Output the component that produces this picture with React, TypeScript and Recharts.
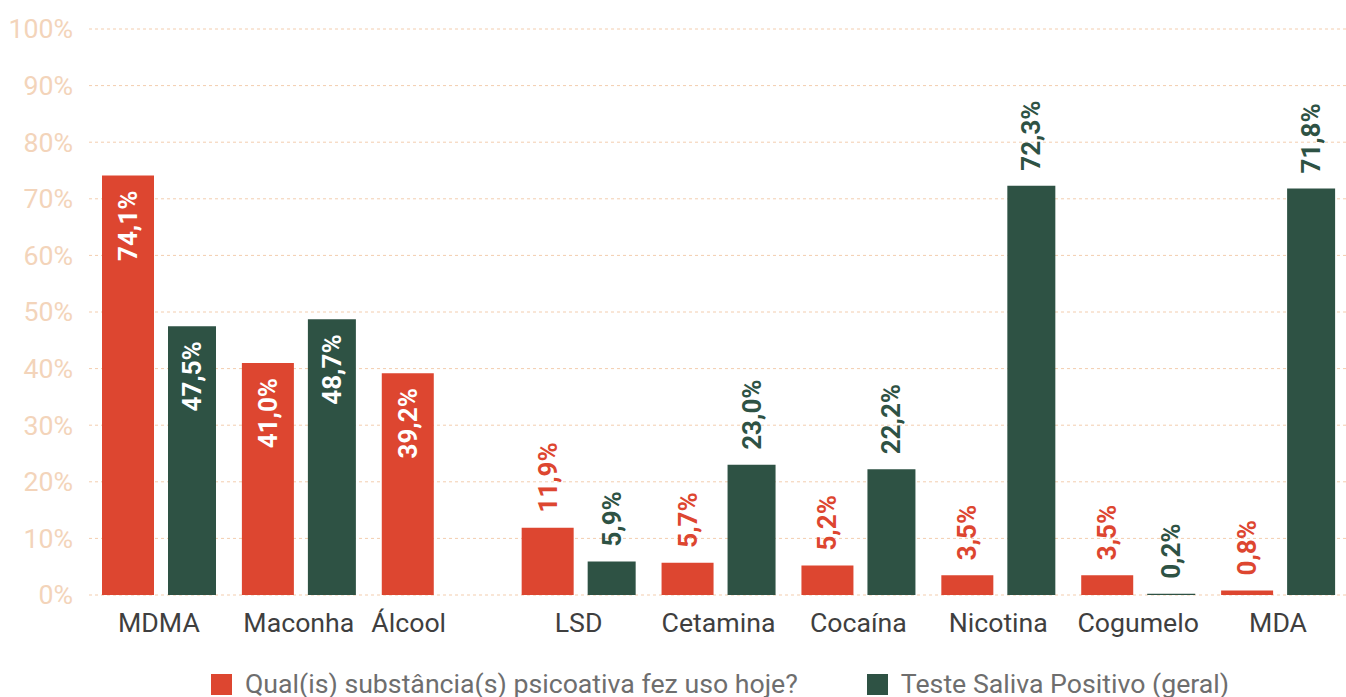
import React from "react";
import {
  BarChart,
  Bar,
  XAxis,
  YAxis,
  CartesianGrid,
  Legend,
  LabelList,
} from "recharts";

const categories = [
  "MDMA",
  "Maconha",
  "Álcool",
  "LSD",
  "Cetamina",
  "Cocaína",
  "Nicotina",
  "Cogumelo",
  "MDA",
];
const usoHoje = [74.1, 41.0, 39.2, 11.9, 5.7, 5.2, 3.5, 3.5, 0.8];
const salivaPositivo = [47.5, 48.7, null, 5.9, 23.0, 22.2, 72.3, 0.2, 71.8];
const yTicks = [0, 10, 20, 30, 40, 50, 60, 70, 80, 90, 100];

const seriesNames = [
  "Qual(is) substância(s) psicoativa fez uso hoje?",
  "Teste Saliva Positivo (geral)",
];

// labels drawn in white inside the bar, the rest sit above it
const insideRed = ["MDMA", "Maconha", "Álcool"];
const insideGreen = ["MDMA", "Maconha"];

const RED = "#DD4630";
const GREEN = "#2E5244";
const FONT = "Roboto, sans-serif";
const FS = 26.7;

const data = categories.map((name, i) => ({
  name,
  uso: usoHoje[i],
  saliva: salivaPositivo[i],
}));

const fmt = (v: number) => v.toFixed(1).replace(".", ",") + "%";

const makeLabel = (color: string, inside: string[]) => (props: any) => {
  const { x, y, width, value, index } = props;
  if (value == null) return null;
  const isInside = inside.includes(categories[index]);
  const cx = Number(x) + Number(width) / 2 + 9;
  const top = Number(y);
  const ly = isInside ? top + 15 : top - 15;
  return (
    <text
      x={cx}
      y={ly}
      transform={`rotate(-90 ${cx} ${ly})`}
      textAnchor={isInside ? "end" : "start"}
      fill={isInside ? "#ffffff" : color}
      fontFamily={FONT}
      fontSize={26}
      fontWeight={700}
    >
      {fmt(Number(value))}
    </text>
  );
};

const XTick = (props: any) => {
  const { x, y, payload } = props;
  const i = categories.indexOf(payload.value);
  // single-bar category: centre the label under its bar
  const dx = salivaPositivo[i] == null ? -30 : 0;
  return (
    <text
      x={x + dx}
      y={y}
      dy="0.71em"
      textAnchor="middle"
      fill="#3f3f3f"
      fontFamily={FONT}
      fontSize={FS}
    >
      {payload.value}
    </text>
  );
};

const LegendContent = () => (
  <div
    style={{
      display: "flex",
      alignItems: "center",
      height: 34,
      paddingLeft: 211,
      fontFamily: FONT,
      fontSize: FS,
      color: "#6e6e6e",
    }}
  >
    {[RED, GREEN].map((c, i) => (
      <div
        key={c}
        style={{
          display: "flex",
          alignItems: "center",
          marginRight: i === 0 ? 69 : 0,
        }}
      >
        <span
          style={{
            width: 21,
            height: 21,
            background: c,
            display: "inline-block",
            marginRight: 13,
            flexShrink: 0,
          }}
        />
        <span style={{ whiteSpace: "nowrap", lineHeight: "34px" }}>{seriesNames[i]}</span>
      </div>
    ))}
  </div>
);

export default function App() {
  return (
    <div style={{ width: 1346, height: 697, overflow: "hidden", background: "#fff" }}>
      <style>{"body{margin:0}"}</style>
      <BarChart
        width={1350}
        height={697}
        data={data}
        margin={{ top: 29, right: 2, left: 0, bottom: 18 }}
        barGap={14}
      >
        <CartesianGrid
          vertical={false}
          stroke="#F3CDAE"
          strokeDasharray="3 3"
        />
        <YAxis
          width={89}
          domain={[0, 100]}
          ticks={yTicks}
          interval={0}
          axisLine={false}
          tickLine={false}
          tickSize={0}
          tickMargin={16}
          tickFormatter={(v) => `${v}%`}
          tick={{ fill: "#F3D4BA", fontSize: FS, fontFamily: FONT }}
        />
        <XAxis
          dataKey="name"
          height={50}
          axisLine={false}
          tickLine={false}
          tickSize={0}
          tickMargin={18}
          interval={0}
          tick={<XTick />}
        />
        <Legend
          verticalAlign="bottom"
          content={<LegendContent />}
          wrapperStyle={{ top: 667, bottom: "auto", left: 0, width: 1346, height: 34 }}
        />
        <Bar dataKey="uso" name={seriesNames[0]} fill={RED} barSize={52} isAnimationActive={false}>
          <LabelList dataKey="uso" content={makeLabel(RED, insideRed)} />
        </Bar>
        <Bar dataKey="saliva" name={seriesNames[1]} fill={GREEN} barSize={48} isAnimationActive={false}>
          <LabelList dataKey="saliva" content={makeLabel(GREEN, insideGreen)} />
        </Bar>
      </BarChart>
    </div>
  );
}
